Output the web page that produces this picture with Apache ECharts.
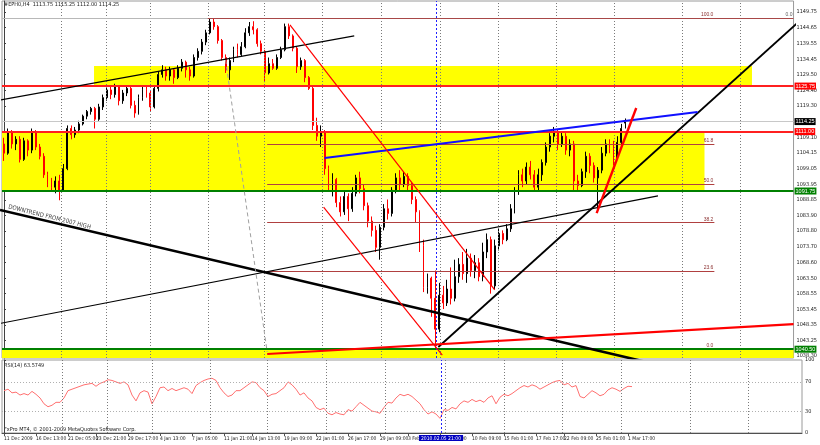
<!DOCTYPE html>
<html><head><meta charset="utf-8">
<script src="https://cdn.jsdelivr.net/npm/echarts@6.0.0/dist/echarts.min.js"></script>
<style>html,body{margin:0;padding:0;background:#fff;}#c{width:820px;height:445px;}</style>
</head><body><div id="c"></div>
<script>
// ---------------- DATA ----------------
const openP = [1107,1104,1111,1107,1108.5,1102,1108,1105,1111,1106,1103,1097,1094,1093,1095,1092,1099,1112,1110,1111.5,1113.5,1116,1117.5,1118.5,1115,1119,1122,1124.5,1123,1125.5,1121,1123.5,1125,1119.5,1117,1122,1124.5,1123.5,1119,1125,1129.5,1131,1129,1131,1128.5,1131.5,1133.5,1131,1129,1135,1137,1140,1143,1146.5,1145,1140.5,1135,1131,1134,1137.5,1136,1138.5,1143,1145,1144,1139.5,1137,1130,1133,1131.5,1135,1137.5,1145,1142,1138,1132,1134,1128.5,1125,1113,1109.5,1111,1099,1093,1095.5,1088,1085,1090,1086,1091,1096,1092.5,1087,1082,1079,1073.5,1080,1086,1084.5,1092,1096,1094,1096.5,1093.5,1089,1085,1074,1060.5,1063.5,1057,1047,1058,1055.5,1060,1057,1064,1068,1065,1070,1066,1068.5,1064,1072,1076,1061,1074,1078,1076,1079.5,1086,1092,1097,1095,1099.5,1097,1093,1097,1101,1106,1109.5,1111,1107,1109.5,1105,1107,1095,1093.5,1098,1103,1100,1096,1098.5,1104,1107,1105.5,1102.5,1107.5,1113.75];
const closeP = [1104,1111,1107,1108.5,1102,1108,1105,1111,1106,1103,1097,1094,1093,1095,1092,1099,1112,1110,1111.5,1113.5,1116,1117.5,1118.5,1115,1119,1122,1124.5,1123,1125.5,1121,1123.5,1125,1119.5,1117,1122,1124.5,1123.5,1119,1125,1129.5,1131,1129,1131,1128.5,1131.5,1133.5,1131,1129,1135,1137,1140,1143,1146.5,1145,1140.5,1135,1131,1134,1137.5,1136,1138.5,1143,1145,1144,1139.5,1137,1130,1133,1131.5,1135,1137.5,1145,1142,1138,1132,1134,1128.5,1125,1113,1109.5,1111,1099,1093,1095.5,1088,1085,1090,1086,1091,1096,1092.5,1087,1082,1079,1073.5,1080,1086,1084.5,1092,1096,1094,1096.5,1093.5,1089,1085,1074,1060.5,1063.5,1057,1047,1058,1055.5,1060,1057,1064,1068,1065,1070,1066,1068.5,1064,1072,1076,1061,1074,1078,1076,1079.5,1086,1092,1097,1095,1099.5,1097,1093,1097,1101,1106,1109.5,1111,1107,1109.5,1105,1107,1095,1093.5,1098,1103,1100,1096,1098.5,1104,1107,1105.5,1102.5,1107.5,1112,1114.25];
const lowP = [1101.5,1103.5,1105.5,1105,1101,1101.5,1103,1104,1105,1102,1096,1093,1091.5,1091,1088.75,1091.5,1098.5,1108.5,1109,1110.5,1113,1115,1116.5,1112,1114.5,1118,1121,1121.5,1122,1119.5,1120,1122.5,1118.5,1115.5,1116.5,1121,1122,1117.5,1118.5,1124,1128.5,1127.5,1127.5,1126.5,1128,1130.5,1128.5,1127.5,1128.5,1134,1136,1139,1142.5,1144,1139.5,1134,1130,1127.75,1133.5,1135,1135.5,1138,1142,1142.5,1138.5,1136,1127,1129.5,1131,1131,1134.5,1137,1141,1137,1130,1131,1127,1124.5,1111.5,1108,1106,1097,1091.5,1090,1086.5,1083.5,1084,1082,1085,1090,1091,1085.5,1080,1077,1072,1069.5,1079,1082.5,1083.5,1091,1092,1093,1092,1087.5,1081.5,1072,1059,1058.5,1051,1040.5,1046,1053.5,1054.5,1055,1056,1062,1063,1062,1064,1063.5,1062.5,1062.5,1070,1058.5,1060,1072.5,1074.5,1075.5,1078.5,1084.5,1090.5,1093,1094,1095.5,1091.5,1092,1095,1100,1104.5,1107.5,1105,1106,1103.5,1103,1092,1091.5,1093,1096,1097.5,1094.5,1085,1097.5,1103,1104,1100,1102,1106.5,1112];
const highP = [1109,1112,1111.5,1109.5,1109.5,1109,1108.5,1112,1111.5,1107,1104,1098,1096,1096.5,1097,1100.5,1113,1113,1112.5,1114.5,1116.5,1118,1119,1119,1120,1123,1125.5,1126,1126.5,1126,1124.5,1126,1126,1121,1123,1125.5,1126,1124.5,1126,1130.5,1132.5,1132,1132,1131.5,1132.5,1134.5,1134,1132,1136,1138,1141,1144,1147.75,1147.5,1145.5,1141,1136,1135,1138.5,1139.5,1140,1144.5,1146.5,1146.75,1144.5,1140.5,1137.5,1135,1134.5,1136,1138.5,1146,1146,1142.5,1138.5,1135,1134.5,1129,1125.5,1115.5,1113,1111.5,1100,1097.5,1096,1090,1091.5,1091,1093,1097,1098,1094,1088,1083.5,1080.5,1081,1087.5,1089,1093,1097.5,1098.5,1098,1097.5,1094.5,1090,1085.5,1076,1065,1064,1066,1062,1061,1063,1067,1069.5,1070,1072,1073,1071.5,1071,1070,1075,1078,1077,1076,1079.5,1079,1081,1087.5,1093,1098.5,1099,1101,1101.5,1098.5,1099,1102,1107.5,1110.5,1112.5,1111.5,1111,1110.5,1108.5,1108,1097,1099,1104.5,1104,1101,1099.5,1106,1108.5,1108.5,1108,1109.5,1113.5,1115.25];
const rsiValues = [58,60,55,56,52,54,52,57,53,48,40,36,38,42,42,48,58,60,62,64,66,67,68,64,68,70,73,72,70,68,70,66,52,44,55,58,56,40,50,62,63,58,61,58,60,62,60,54,65,69,72,74,75,72,62,55,50,52,58,58,62,66,70,69,62,58,50,53,54,58,62,70,66,60,52,55,48,44,35,32,34,27,25,28,26,25,32,30,36,42,38,34,30,29,27,35,42,41,48,53,51,53,50,45,40,32,26,29,26,20,32,31,35,33,40,44,42,46,43,45,42,48,51,40,49,53,51,54,58,62,65,63,66,64,60,63,66,69,71,72,66,68,63,65,50,48,53,58,55,51,53,59,62,60,57,61,64,63.57];
const timeLabels = ['11 Dec 2009','16 Dec 13:00','21 Dec 05:00','23 Dec 21:00','29 Dec 17:00','4 Jan 13:00','7 Jan 05:00','11 Jan 21:00','14 Jan 13:00','19 Jan 09:00','22 Jan 01:00','26 Jan 17:00','29 Jan 09:00','3 Feb 01:00','5 Feb 17:00','10 Feb 09:00','15 Feb 01:00','17 Feb 17:00','22 Feb 09:00','25 Feb 01:00','1 Mar 17:00'];
const timeLabelSlots = [0,8,16,23,31,39,47,55,62,70,78,86,94,101,109,117,125,133,140,148,156];
const priceTicks = [1149.75,1144.65,1139.55,1134.45,1129.50,1124.40,1119.30,1109.10,1104.15,1099.05,1093.95,1088.85,1083.90,1078.80,1073.70,1068.60,1063.50,1058.55,1053.45,1048.35,1043.25,1038.30];
const rsiTicks = [0,30,70,100];
const rsiLevels = [30,70];
const weekSlots = [14.5,25.75,37,51.5,65.75,80.5,95.25,110.25,125,139.5,154.25,171.5,186];
const redLevels = [1125.75,1111.00];
const greenLevels = [1091.75,1040.50];
const lastPrice = 1114.25;
const markerSlot = 109.25;
const markerLabel = '2010.02.05 21:00';
const fibNames = ['0.0','23.6','38.2','50.0','61.8','100.0'];
const fibValues = [1040.5,1065.8,1081.5,1094.1,1106.8,1147.75];
const fibSpan = [66.5,179.5];
const fib2Names = ['0.0','50.0'];
const fib2Values = [1147.75,1125.75];
const fib2Span = [51.5,199.5];
const zoneTop = [[22.75,1132.25],[189,1125.75]];
const zoneMid = [[-0.5,1111.0],[177,1091.75]];
const zoneLow = [1040.5,1037.65];
const lineChannelTop = [[-1,1121.25],[88.5,1142.0]];
const lineLongRise = [[-1,1048.85],[165.25,1090.15]];
const lineDowntrend = [[-1,1085.6],[161.5,1036.6]];
const lineFromLow = [[109.75,1041.2],[200.75,1146.5]];
const lineBlue = [[81,1102.45],[175.25,1117.35]];
const lineRedSupport = [[66.5,1038.95],[199.5,1048.65]];
const lineRedSteep = [[149.75,1084.6],[159.75,1118.65]];
const lineRedChanA = [[72.25,1145.55],[124,1059.7]];
const lineRedChanB = [[80.75,1086.55],[110.75,1038.6]];
const lineGrayDash = [[56,1134.2],[66.5,1039.6]];
const downtrendTextAt = [11.5,1083.3];

// ---------------- CHART ----------------
const NSLOT = 200;
const slots = Array.from({length: NSLOT}, (_, i) => String(i));
const candles = openP.map((o, i) => [o, closeP[i], lowP[i], highP[i]]);
const FONT = 'Liberation Sans';
const NARROW = '"Liberation Sans Narrow", "DejaVu Sans Condensed", "Liberation Sans"';
const chart = echarts.init(document.getElementById('c'), null, {renderer: 'canvas'});

function seg(pts, color, width, type) {
  return {type: 'line', xAxisIndex: 2, yAxisIndex: 0, data: pts, symbol: 'none', silent: true,
    lineStyle: {color, width, type: type || 'solid'}, z: 6, animation: false};
}
function boxLine(v, lineColor, lineW, boxColor, txtColor) {
  return {yAxis: v, lineStyle: {color: lineColor, width: lineW, type: 'solid'},
    label: {show: true, position: 'end', distance: 1, formatter: v.toFixed(2), backgroundColor: boxColor,
      color: txtColor, fontSize: 5.5, fontFamily: FONT, padding: [1, 1, 0, 1]}};
}
const MIN = 1037.65, MAX = 1153.31;

const option = {
  animation: false,
  backgroundColor: '#ffffff',
  grid: [
    {left: 2, right: 18, top: 1, height: 357, show: true, borderColor: '#9a9a9a', borderWidth: 1},
    {left: 2, right: 18, top: 360, height: 73, show: true, borderColor: '#9a9a9a', borderWidth: 1}
  ],
  xAxis: [
    {type: 'category', gridIndex: 0, data: slots, boundaryGap: true, axisLine: {show: false}, axisTick: {show: false}, axisLabel: {show: false}, splitLine: {show: false}},
    {type: 'category', gridIndex: 1, data: slots, boundaryGap: true,
      axisLine: {show: true, lineStyle: {color: '#505050', width: 1}},
      axisTick: {show: true, alignWithLabel: true, length: 3, lineStyle: {color: '#505050'}, interval: (i) => timeLabelSlots.includes(i)},
      axisLabel: {show: true, interval: (i) => timeLabelSlots.includes(i), align: 'left', margin: 3, fontSize: 5, fontFamily: NARROW, color: '#202020',
        formatter: (v, i) => { const k = timeLabelSlots.indexOf(i); return k >= 0 ? timeLabels[k] : ''; }},
      splitLine: {show: false}},
    {type: 'value', gridIndex: 0, min: -0.5, max: NSLOT - 0.5, show: false},
    {type: 'value', gridIndex: 1, min: -0.5, max: NSLOT - 0.5, show: false}
  ],
  yAxis: [
    {type: 'value', gridIndex: 0, position: 'right', min: MIN, max: MAX, scale: true,
      axisLine: {show: true, lineStyle: {color: '#404040'}},
      axisTick: {show: true, length: 2, customValues: priceTicks, lineStyle: {color: '#404040'}},
      axisLabel: {show: true, customValues: priceTicks, margin: 3, fontSize: 5.5, fontFamily: NARROW, color: '#202020', formatter: v => v.toFixed(2)},
      splitLine: {show: false}},
    {type: 'value', gridIndex: 1, position: 'right', min: 0, max: 100,
      axisLine: {show: true, lineStyle: {color: '#404040'}},
      axisTick: {show: true, length: 2, customValues: rsiTicks, lineStyle: {color: '#404040'}},
      axisLabel: {show: true, customValues: rsiTicks, margin: 3, fontSize: 5.5, fontFamily: NARROW, color: '#202020'},
      splitLine: {show: false}}
  ],
  series: [
    {type: 'line', xAxisIndex: 2, yAxisIndex: 0, data: [[-5, 1100]], symbol: 'none', lineStyle: {opacity: 0}, silent: true, z: 1,
      markArea: {silent: true, itemStyle: {color: '#ffff00', opacity: 1}, data: [
        [{coord: zoneTop[0]}, {coord: zoneTop[1]}],
        [{coord: zoneMid[0]}, {coord: zoneMid[1]}],
        [{yAxis: zoneLow[0]}, {yAxis: zoneLow[1]}]
      ]},
      markLine: {silent: true, symbol: 'none', animation: false, data: [
        ...weekSlots.map(s => ({xAxis: s, lineStyle: {color: '#7a7a7a', width: 1, type: [1, 2]}, label: {show: false}})),
        {yAxis: fib2Values[0], lineStyle: {color: '#b8b8b8', width: 1, type: 'solid'}, label: {show: false}},
        ...fibValues.map((v, k) => [
          {coord: [fibSpan[0], v], lineStyle: {color: '#b04040', width: 1, type: 'solid'},
            label: {show: true, position: 'insideEndTop', distance: 1, formatter: fibNames[k], fontSize: 5, fontFamily: FONT, color: '#8b3030'}},
          {coord: [fibSpan[1], v]}
        ]),
        [
          {coord: [fib2Span[0], fib2Values[0]], lineStyle: {color: '#a84848', width: 1, type: 'solid'},
            label: {show: true, position: 'insideEndTop', distance: 1, formatter: fib2Names[0], fontSize: 5, fontFamily: FONT, color: '#606060'}},
          {coord: [fib2Span[1], fib2Values[0]]}
        ]
      ]}
    },
    {type: 'line', xAxisIndex: 2, yAxisIndex: 0, data: [[-5, 1100]], symbol: 'none', lineStyle: {opacity: 0}, silent: true, z: 3,
      markLine: {silent: true, symbol: 'none', animation: false, data: [
        boxLine(lastPrice, '#c8c8c8', 1, '#000000', '#ffffff'),
        ...redLevels.map(v => boxLine(v, '#ff2020', 2, '#ff0000', '#ffffff')),
        ...greenLevels.map(v => boxLine(v, '#008000', 2, '#008000', '#ffffff')),
        [
          {coord: [fib2Span[0], fib2Values[1]], lineStyle: {opacity: 0},
            label: {show: true, position: 'insideEndTop', distance: 2, formatter: fib2Names[1], fontSize: 5, fontFamily: FONT, color: '#00a000'}},
          {coord: [fib2Span[1], fib2Values[1]]}
        ],
        {xAxis: markerSlot, lineStyle: {color: '#2020ff', width: 1, type: [2, 2]}, label: {show: false}}
      ]}
    },
    {type: 'candlestick', xAxisIndex: 0, yAxisIndex: 0, data: candles, barWidth: 1.4, z: 4, silent: true,
      itemStyle: {color: '#000000', color0: '#ff0000', borderColor: '#000000', borderColor0: '#ff0000', borderWidth: 1}},
    seg(lineChannelTop, '#000000', 1.2),
    seg(lineLongRise, '#000000', 1.2),
    seg(lineDowntrend, '#000000', 2.6),
    seg(lineFromLow, '#000000', 1.8),
    seg(lineBlue, '#1010ff', 1.8),
    seg(lineRedSupport, '#ff0000', 2.2),
    seg(lineRedSteep, '#ff0000', 2.4),
    seg(lineRedChanA, '#ff0000', 1.2),
    seg(lineRedChanB, '#ff0000', 1.2),
    seg(lineGrayDash, '#a0a0a0', 1, [4, 3]),
    {type: 'scatter', xAxisIndex: 2, yAxisIndex: 0, data: [downtrendTextAt], symbolSize: 0, silent: true, z: 7,
      label: {show: true, position: 'inside', rotate: -14, formatter: 'DOWNTREND FROM 2007 HIGH', fontSize: 6, fontFamily: NARROW, color: '#000000'}},
    {type: 'line', xAxisIndex: 1, yAxisIndex: 1, data: rsiValues, symbol: 'none', silent: true, z: 4,
      lineStyle: {color: '#ff7070', width: 1}},
    {type: 'line', xAxisIndex: 3, yAxisIndex: 1, data: [[-5, 50]], symbol: 'none', lineStyle: {opacity: 0}, silent: true, z: 3,
      markLine: {silent: true, symbol: 'none', animation: false, data: [
        ...rsiLevels.map(v => ({yAxis: v, lineStyle: {color: '#b0b0b0', width: 1, type: [1, 2]}, label: {show: false}})),
        ...weekSlots.map(s => ({xAxis: s, lineStyle: {color: '#7a7a7a', width: 1, type: [1, 2]}, label: {show: false}})),
        {xAxis: markerSlot, lineStyle: {color: '#2020ff', width: 1, type: [2, 2]},
          label: {show: true, position: 'start', distance: 2, formatter: markerLabel, backgroundColor: '#0000c0', color: '#ffffff', fontSize: 5, fontFamily: NARROW, padding: [1, 2, 0, 2]}}
      ]}
    }
  ],
  graphic: [
    {type: 'text', left: 4, top: 2, style: {text: '#EPH0,H4  1113.75 1115.25 1112.00 1114.25', fontSize: 5.5, fontFamily: NARROW, fill: '#202020'}},
    {type: 'text', left: 4, top: 363, style: {text: 'RSI(14) 63.5749', fontSize: 5.5, fontFamily: NARROW, fill: '#202020'}},
    {type: 'text', left: 4, top: 427, style: {text: 'FxPro MT4, \u00a9 2001-2009 MetaQuotes Software Corp.', fontSize: 5.5, fontFamily: NARROW, fill: '#202020'}}
  ]
};
chart.setOption(option);
</script></body></html>
